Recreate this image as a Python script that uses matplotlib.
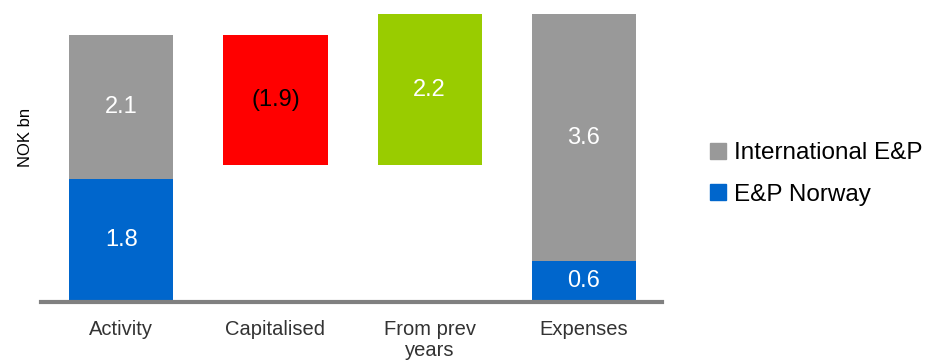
import numpy as np
import matplotlib.pyplot as plt
from matplotlib.patches import Patch

plt.rcParams['font.family'] = ['Liberation Sans', 'DejaVu Sans']

# NOK bn, waterfall of E&P spend
categories = ["Activity", "Capitalised", "From prev\nyears", "Expenses"]
norway = [1.8, 0.6]            # Activity, Expenses
international = [2.1, 3.6]     # Activity, Expenses
capitalised = -1.9
from_prev = 2.2

GREY = '#999999'
BLUE = '#0066CC'
RED = '#FF0000'
GREEN = '#99CC00'
AXIS = '#808080'
W = 0.675

fig = plt.figure(figsize=(9.41, 3.63), dpi=100, facecolor='w')
ax = fig.add_axes([41/941, 61/363, 621/941, 291/363])

x = np.arange(len(categories))

# activity stack
act_total = norway[0] + international[0]
ax.bar(x[0], norway[0], W, color=BLUE)
ax.bar(x[0], international[0], W, bottom=norway[0], color=GREY)

# capitalised step down from the activity total
cap_bottom = act_total + capitalised
ax.bar(x[1], -capitalised, W, bottom=cap_bottom, color=RED)

# previous years step up
ax.bar(x[2], from_prev, W, bottom=cap_bottom, color=GREEN)

# expenses stack
ax.bar(x[3], norway[1], W, color=BLUE)
ax.bar(x[3], international[1], W, bottom=norway[1], color=GREY)

def label(xx, y0, h, txt, c='w'):
    ax.text(xx, y0 + h/2, txt, ha='center', va='center', color=c, fontsize=17)

label(x[0], 0, norway[0], "%.1f" % norway[0])
label(x[0], norway[0], international[0], "%.1f" % international[0])
label(x[1], cap_bottom, -capitalised, "(%.1f)" % -capitalised, c='k')
label(x[2], cap_bottom, from_prev, "%.1f" % from_prev)
label(x[3], 0, norway[1], "%.1f" % norway[1])
label(x[3], norway[1], international[1], "%.1f" % international[1])

ax.set_xlim(-0.52, 3.506)
ax.set_ylim(0, 4.25)
for s in ['top', 'right', 'left']:
    ax.spines[s].set_visible(False)
ax.spines['bottom'].set_color(AXIS)
ax.spines['bottom'].set_linewidth(3)
ax.set_yticks([])
ax.set_xticks(x)
ax.set_xticklabels(categories, fontsize=14.5, color='#333333', linespacing=1.15)
ax.tick_params(axis='x', length=0, pad=13)

fig.text(25/941, 1 - 137/363, "NOK bn", rotation=90, ha='center', va='center', fontsize=12)

handles = [Patch(color=GREY, label="International E&P"),
           Patch(color=BLUE, label="E&P Norway")]
fig.legend(handles=handles, loc='center left', bbox_to_anchor=(688/941, 1 - 174/363),
           frameon=False, fontsize=17.5, handlelength=0.65, handleheight=0.65,
           handletextpad=0.35, labelspacing=0.8)

fig.savefig("out.png", dpi=100, facecolor='w')
plt.close()
